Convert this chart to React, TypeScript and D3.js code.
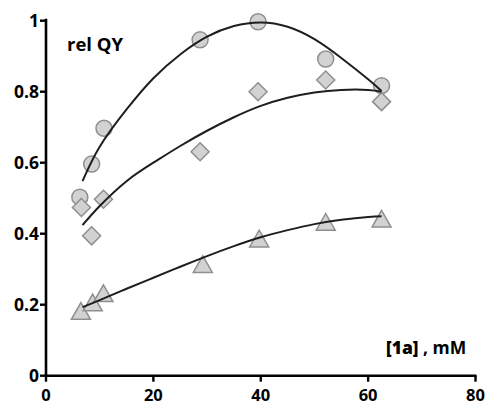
import React from "react";
import * as d3 from "d3";

const W = 488;
const H = 406;

const xTicks = [0, 20, 40, 60, 80];
const yTicks = [0, 0.2, 0.4, 0.6, 0.8, 1];
const yTickLabels = ["0", "0.2", "0.4", "0.6", "0.8", "1"];

// measured points: concentration (mM)
const circleX = [6.3, 8.5, 10.8, 28.7, 39.5, 52.1, 62.5];
const circleY = [0.503, 0.596, 0.697, 0.946, 0.997, 0.892, 0.817];
const diamondX = [6.6, 8.5, 10.7, 28.7, 39.5, 52.1, 62.5];
const diamondY = [0.474, 0.394, 0.497, 0.631, 0.8, 0.833, 0.772];
const triangleX = [6.5, 8.7, 10.7, 29.2, 39.7, 52.1, 62.5];
const triangleY = [0.18, 0.204, 0.23, 0.312, 0.384, 0.431, 0.44];

// fitted curves
const fitX = [6.8, 10, 15, 20, 25, 30, 35, 40, 45, 50, 55, 60, 62.5];
const circleFit = [0.548, 0.645, 0.75, 0.838, 0.905, 0.955, 0.985, 0.995, 0.983, 0.948, 0.895, 0.835, 0.802];
const diamondFit = [0.424, 0.478, 0.548, 0.6, 0.647, 0.69, 0.728, 0.76, 0.783, 0.798, 0.805, 0.805, 0.8];
const triangleFit = [0.193, 0.213, 0.245, 0.276, 0.307, 0.337, 0.365, 0.39, 0.41, 0.427, 0.439, 0.447, 0.449];

const FONT = "'Open Sans', Lato, sans-serif";

export default function App() {
  const x = d3.scaleLinear().domain([0, 80]).range([46, 475.5]);
  const y = d3.scaleLinear().domain([0, 1]).range([375.7, 20.7]);

  const line = d3
    .line<[number, number]>()
    .x((d) => x(d[0]))
    .y((d) => y(d[1]))
    .curve(d3.curveNatural);

  const mk = (vals: number[]) => fitX.map((v, i) => [v, vals[i]] as [number, number]);

  const fill = "#d2d2d2";
  const stroke = "#8f8f8f";

  const diamond = (cx: number, cy: number, r: number) =>
    `M${cx},${cy - r}L${cx + r},${cy}L${cx},${cy + r}L${cx - r},${cy}Z`;
  const tri = (cx: number, cy: number, s: number) => {
    const h = s * 0.88;
    return `M${cx},${cy - h * 0.55}L${cx + s / 2},${cy + h * 0.45}L${cx - s / 2},${cy + h * 0.45}Z`;
  };

  return (
    <svg width={W} height={H} style={{ position: "absolute", left: 0, top: 0, background: "#fff" }}>
      {/* markers */}
      {circleX.map((v, i) => (
        <circle key={"c" + i} cx={x(v)} cy={y(circleY[i])} r={8} fill={fill} stroke={stroke} strokeWidth={1.5} />
      ))}
      {diamondX.map((v, i) => (
        <path key={"d" + i} d={diamond(x(v), y(diamondY[i]), 9)} fill={fill} stroke={stroke} strokeWidth={1.5} />
      ))}
      {triangleX.map((v, i) => (
        <path key={"t" + i} d={tri(x(v), y(triangleY[i]), 19)} fill={fill} stroke={stroke} strokeWidth={1.5} />
      ))}

      {/* fitted curves */}
      <path d={line(mk(circleFit)) || ""} fill="none" stroke="#1e1e1e" strokeWidth={2} />
      <path d={line(mk(diamondFit)) || ""} fill="none" stroke="#1e1e1e" strokeWidth={2} />
      <path d={line(mk(triangleFit)) || ""} fill="none" stroke="#1e1e1e" strokeWidth={2} />

      {/* axes */}
      <line x1={x(0)} x2={x(0)} y1={y(1) - 2} y2={y(0) + 1.2} stroke="#000" strokeWidth={2.6} />
      <line x1={x(0) - 1.2} x2={x(80) + 1} y1={y(0)} y2={y(0)} stroke="#000" strokeWidth={2.6} />
      {yTicks.map((t, i) => (
        <g key={"yt" + i}>
          <line x1={x(0) - 6} x2={x(0)} y1={y(t)} y2={y(t)} stroke="#000" strokeWidth={2.4} />
          <text
            x={x(0) - 7}
            y={y(t)}
            dy="0.36em"
            textAnchor="end"
            fontFamily={FONT}
            fontWeight="bold"
            fontSize={17.5}
            fill="#000"
          >
            {yTickLabels[i]}
          </text>
        </g>
      ))}
      {xTicks.map((t, i) => (
        <g key={"xt" + i}>
          <line x1={x(t)} x2={x(t)} y1={y(0)} y2={y(0) + 6} stroke="#000" strokeWidth={2.4} />
          <text
            x={x(t)}
            y={401}
            textAnchor="middle"
            fontFamily={FONT}
            fontWeight="bold"
            fontSize={16.5}
            fill="#000"
          >
            {t}
          </text>
        </g>
      ))}

      {/* labels */}
      <text x={67} y={51} fontFamily={FONT} fontWeight="bold" fontSize={18.5} fill="#000">
        rel QY
      </text>
      <text x={386} y={354} fontFamily={FONT} fontWeight="bold" fontSize={17.5} fill="#000">
        <tspan fontWeight="800">[1a]</tspan>
        <tspan> , mM</tspan>
      </text>
    </svg>
  );
}
